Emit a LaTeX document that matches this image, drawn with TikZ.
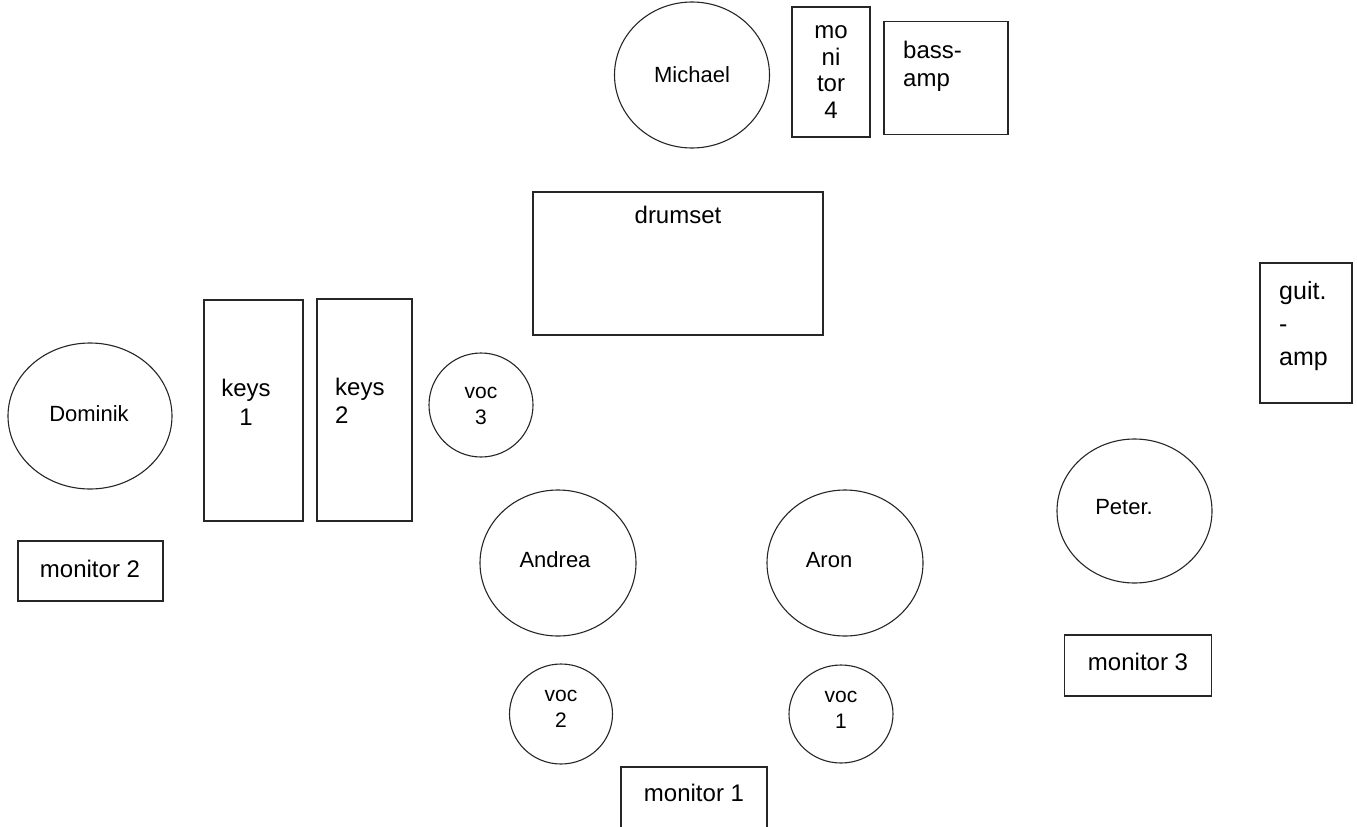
\documentclass[tikz,border=0pt]{standalone}
\usepackage{fontspec}
\setmainfont{Liberation Sans}
\usetikzlibrary{shapes.geometric}
\begin{document}
\begin{tikzpicture}[x=1pt,y=-1pt,
  outl/.style={draw=black!85,line width=1.1pt},
  person/.style={outl,ellipse,inner sep=0pt},
  box/.style={outl,rectangle,inner sep=0pt},
  nm/.style={font=\fontsize{22}{27}\selectfont,inner sep=0pt,align=center},
  lb/.style={font=\fontsize{24}{29}\selectfont,inner sep=0pt,align=center},
  lbl/.style={font=\fontsize{24}{28}\selectfont,inner sep=0pt,align=left},
  vc/.style={font=\fontsize{21}{26}\selectfont,inner sep=0pt,align=center}]
\useasboundingbox (0,0) rectangle (1357,827);
\begin{scope}
\clip (0,0) rectangle (1357,827);
% people
\node[person,minimum width=155pt,minimum height=146pt] (michael) at (692,75) {};
\node[nm] (michaelT) at (692,75) {Michael};
\node[person,minimum width=164pt,minimum height=146pt] (dominik) at (90,416) {};
\node[nm] (dominikT) at (89,414) {Dominik};
\node[person,minimum width=156pt,minimum height=146pt] (andrea) at (558,563) {};
\node[nm] (andreaT) at (555,560) {Andrea};
\node[person,minimum width=156pt,minimum height=146pt] (aron) at (845,563) {};
\node[nm] (aronT) at (829,560) {Aron};
\node[person,minimum width=155pt,minimum height=144pt] (peter) at (1134.5,511) {};
\node[nm] (peterT) at (1124,507) {Peter.};
% vocals
\node[person,minimum width=104pt,minimum height=104pt] (voc3) at (481,405) {};
\node[vc] (voc3T) at (481,406) {voc\\3};
\node[person,minimum width=103pt,minimum height=100pt] (voc2) at (561,714) {};
\node[vc] (voc2T) at (561,709) {voc\\2};
\node[person,minimum width=104pt,minimum height=98pt] (voc1) at (841,714) {};
\node[vc] (voc1T) at (841,710) {voc\\1};
% boxes
\node[box,minimum width=78pt,minimum height=130pt] (mon4) at (831,72) {};
\node[font=\fontsize{24}{26.5}\selectfont,inner sep=0pt,align=center] (mon4T) at (831,72) {mo\\ni\\tor\\4};
\node[box,minimum width=124pt,minimum height=113pt] (bass) at (946,78) {};
\node[lbl,anchor=west] (bassT) at (903,66) {bass-\\amp};
\node[box,minimum width=290pt,minimum height=143pt] (drums) at (678,263.5) {};
\node[lb,anchor=north] (drumsT) at (678,206) {drumset};
\node[box,minimum width=99pt,minimum height=221pt] (keys1) at (253.5,410.5) {};
\node[lb] (keys1T) at (246,402) {keys\\1};
\node[box,minimum width=95pt,minimum height=222pt] (keys2) at (364.5,410) {};
\node[lbl,anchor=west] (keys2T) at (335,401) {keys\\2};
\node[box,minimum width=92pt,minimum height=140pt] (guit) at (1306,333) {};
\node[font=\fontsize{25}{33}\selectfont,inner sep=0pt,align=left,anchor=west] (guitT) at (1279,326) {guit.\\-\\amp};
\node[box,minimum width=145pt,minimum height=60pt] (mon2) at (90.5,571) {};
\node[lb] (mon2T) at (90,569) {monitor 2};
\node[box,minimum width=147pt,minimum height=61pt] (mon3) at (1138,665.5) {};
\node[lb] (mon3T) at (1138,662) {monitor 3};
\node[box,minimum width=146pt,minimum height=70pt] (mon1) at (694,802) {};
\node[lb] (mon1T) at (694,793) {monitor 1};
\end{scope}
\end{tikzpicture}
\end{document}
